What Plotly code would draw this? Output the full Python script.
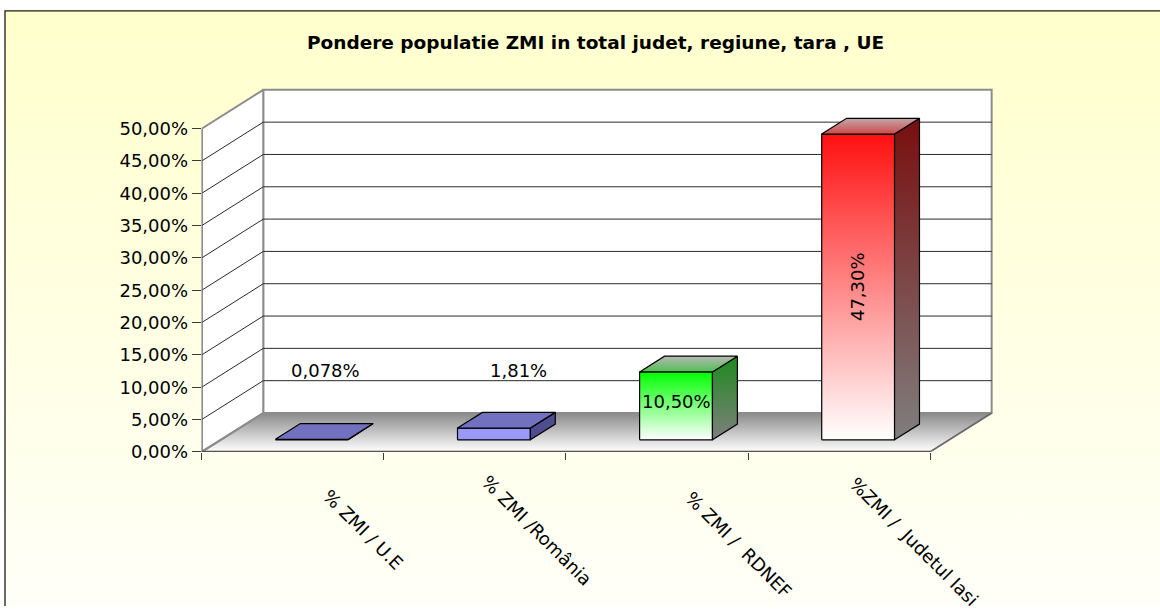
import plotly.graph_objects as go

# ---------------- data ----------------
categories = ["% ZMI / U.E", "% ZMI /România", "% ZMI /  RDNEF", "%ZMI /  Judetul Iasi"]
values = [0.078, 1.81, 10.50, 47.30]
value_labels = ["0,078%", "1,81%", "10,50%", "47,30%"]
y_ticks = [0, 5, 10, 15, 20, 25, 30, 35, 40, 45, 50]
y_tick_labels = [f"{v:.2f}".replace(".", ",") + "%" for v in y_ticks]
title_text = "Pondere populatie ZMI in total judet, regiune, tara , UE"

# ---------------- styles ----------------
FONT = "DejaVu Sans"
front_grad = [("#9999FF", "#9999FF"), ("#9999FF", "#9999FF"), ("#FFFFFF", "#00FF00"), ("#FFFFFF", "#FF1010")]
side_grad = [("#4D4D8F", "#4D4D8F"), ("#4D4D8F", "#4D4D8F"), ("#7F7F7F", "#1E8A1E"), ("#7F7F7F", "#7A0E0E")]
top_grad = [("#7171C0", "#7171C0"), ("#7171C0", "#7171C0"), ("#4FC04F", "#B8B8B8"), ("#D04848", "#C0A8A8")]

# label placement (layout, not data)
cat_label_dx = [0.127, 0.0, 0.116, 0.02]
cat_label_shift_px = [-31, -16, -33, -18]
small_label_dx = [0.18, 0.237]
small_label_y = 12.6

# ---------------- geometry / layout ----------------
W, H = 1160, 616
X0PX, CATPX = 201.7, 182.1      # px of x=-0.5, px per category
Y0PX, PXPCT = 459.3, 6.57       # px of 0 %, px per percent
XR = [-0.5, 3.85]
YR = [0, 56.5]
DX, DY = 0.338, 6.01            # full floor depth in data units
F0, FD = 0.31, 0.405            # bar front depth, bar depth (fractions)
HALFW = 0.2

xdom = [X0PX / W, (X0PX + (XR[1] - XR[0]) * CATPX) / W]
ydom = [(H - Y0PX) / H, (H - (Y0PX - YR[1] * PXPCT)) / H]

fig = go.Figure()


def poly(xs, ys, grad=None, color=None, line_color="black", lw=1.2, ax=("x2", "y2")):
    kw = dict(x=list(xs) + [xs[0]], y=list(ys) + [ys[0]], mode="lines", fill="toself",
              line=dict(color=line_color, width=lw), xaxis=ax[0], yaxis=ax[1],
              hoverinfo="skip", showlegend=False)
    if grad is not None:
        kw["fillgradient"] = dict(type="vertical", colorscale=[[0, grad[0]], [1, grad[1]]])
    else:
        kw["fillcolor"] = color
    fig.add_trace(go.Scatter(**kw))


def line(xs, ys, color="#333333", width=1.0):
    fig.add_trace(go.Scatter(x=xs, y=ys, mode="lines", line=dict(color=color, width=width),
                             xaxis="x2", yaxis="y2", hoverinfo="skip", showlegend=False,
                             cliponaxis=False))


# background (paper gradient + border) on the first axes (pixel units)
poly([5, 5, 1175, 1175], [-10, 605, 605, -10], grad=("#FFFFF9", "#FFFFCC"),
     line_color="#1a1a1a", lw=1.3, ax=("x", "y"))

xl0, xr0 = -0.5, 3.5
ymax = y_ticks[-1]
# floor
poly([xl0, xr0, xr0 + DX, xl0 + DX], [0, 0, DY, DY], grad=("#FFFFFF", "#8A8A8A"),
     line_color="#8A8A8A", lw=1.5)
# back wall
poly([xl0 + DX, xr0 + DX, xr0 + DX, xl0 + DX], [DY, DY, DY + ymax, DY + ymax], color="white",
     line_color="#8C8C8C", lw=2)
# side wall
poly([xl0, xl0 + DX, xl0 + DX, xl0], [0, DY, DY + ymax, ymax], color="white",
     line_color="#8C8C8C", lw=2)
# gridlines
for v in y_ticks[1:-1]:
    line([xl0 + DX, xr0 + DX], [v + DY, v + DY], color="#2a2a2a", width=1)
    line([xl0, xl0 + DX], [v, v + DY], color="#2a2a2a", width=1)
# floor edges
line([xl0, xl0 + DX], [0, DY], color="#8C8C8C", width=2)
line([xr0, xr0 + DX], [0, DY], color="#6a6a6a", width=1.5)
line([xl0, xl0], [0, ymax], color="#6a6a6a", width=1.5)
line([xl0, xr0], [0, 0], color="#3a3a3a", width=2)

# bars
for i, v in enumerate(values):
    xl = i - HALFW + F0 * DX
    xr = xl + 2 * HALFW
    yb = F0 * DY
    yt = yb + v
    ddx, ddy = FD * DX, FD * DY
    poly([xl, xr, xr, xl], [yb, yb, yt, yt], grad=front_grad[i])
    poly([xr, xr + ddx, xr + ddx, xr], [yb, yb + ddy, yt + ddy, yt], grad=side_grad[i])
    poly([xl, xr, xr + ddx, xl + ddx], [yt, yt, yt + ddy, yt + ddy], grad=top_grad[i])

annotations = []
# title
annotations.append(dict(text="<b>" + title_text + "</b>", xref="paper", yref="paper",
                        x=595 / W, y=1 - 43 / H, xanchor="center", yanchor="middle",
                        showarrow=False, font=dict(family=FONT, size=18.5, color="black")))
# value labels
for i in range(2):
    annotations.append(dict(text=value_labels[i], xref="x2", yref="y2", x=i + small_label_dx[i],
                            y=small_label_y, showarrow=False, xanchor="center", yanchor="middle",
                            font=dict(family=FONT, size=18, color="black")))
for i in (2, 3):
    xl = i - HALFW + F0 * DX
    yb = F0 * DY
    annotations.append(dict(text=value_labels[i], xref="x2", yref="y2", x=xl + HALFW,
                            y=yb + values[i] / 2 + (0.6 if i == 2 else 0), showarrow=False,
                            xanchor="center", yanchor="middle",
                            textangle=0 if i == 2 else -90,
                            font=dict(family=FONT, size=18, color="black")))
# category labels (anchored at the floor front edge, shifted down in px)
for i, c in enumerate(categories):
    annotations.append(dict(text=c, xref="x2", yref="y2", x=i + cat_label_dx[i], y=0,
                            yshift=cat_label_shift_px[i],
                            showarrow=False, xanchor="left", yanchor="top", textangle=45,
                            font=dict(family=FONT, size=18, color="black")))

fig.update_layout(
    width=W, height=H,
    margin=dict(l=0, r=0, t=0, b=0),
    paper_bgcolor="white", plot_bgcolor="rgba(0,0,0,0)",
    showlegend=False,
    xaxis=dict(range=[0, W], domain=[0, 1], visible=False, fixedrange=True),
    yaxis=dict(range=[0, H], domain=[0, 1], visible=False, fixedrange=True),
    xaxis2=dict(range=XR, domain=xdom, anchor="y2", showgrid=False, zeroline=False,
                showline=False, tickvals=[-0.5, 0.5, 1.5, 2.5, 3.5], ticks="outside",
                ticklen=7, tickcolor="#3a3a3a", tickwidth=1.2, showticklabels=False,
                fixedrange=True),
    yaxis2=dict(range=YR, domain=ydom, anchor="x2", showgrid=False, zeroline=False,
                showline=False, tickvals=y_ticks, ticktext=y_tick_labels, ticks="outside",
                ticklen=9, tickcolor="#3a3a3a", tickwidth=1.2, fixedrange=True,
                tickfont=dict(family=FONT, size=18, color="black")),
    annotations=annotations,
)

post = "document.body.style.margin='0';document.body.style.overflow='hidden';"
fig.write_html("out.html", config={"displayModeBar": False}, post_script=post)
